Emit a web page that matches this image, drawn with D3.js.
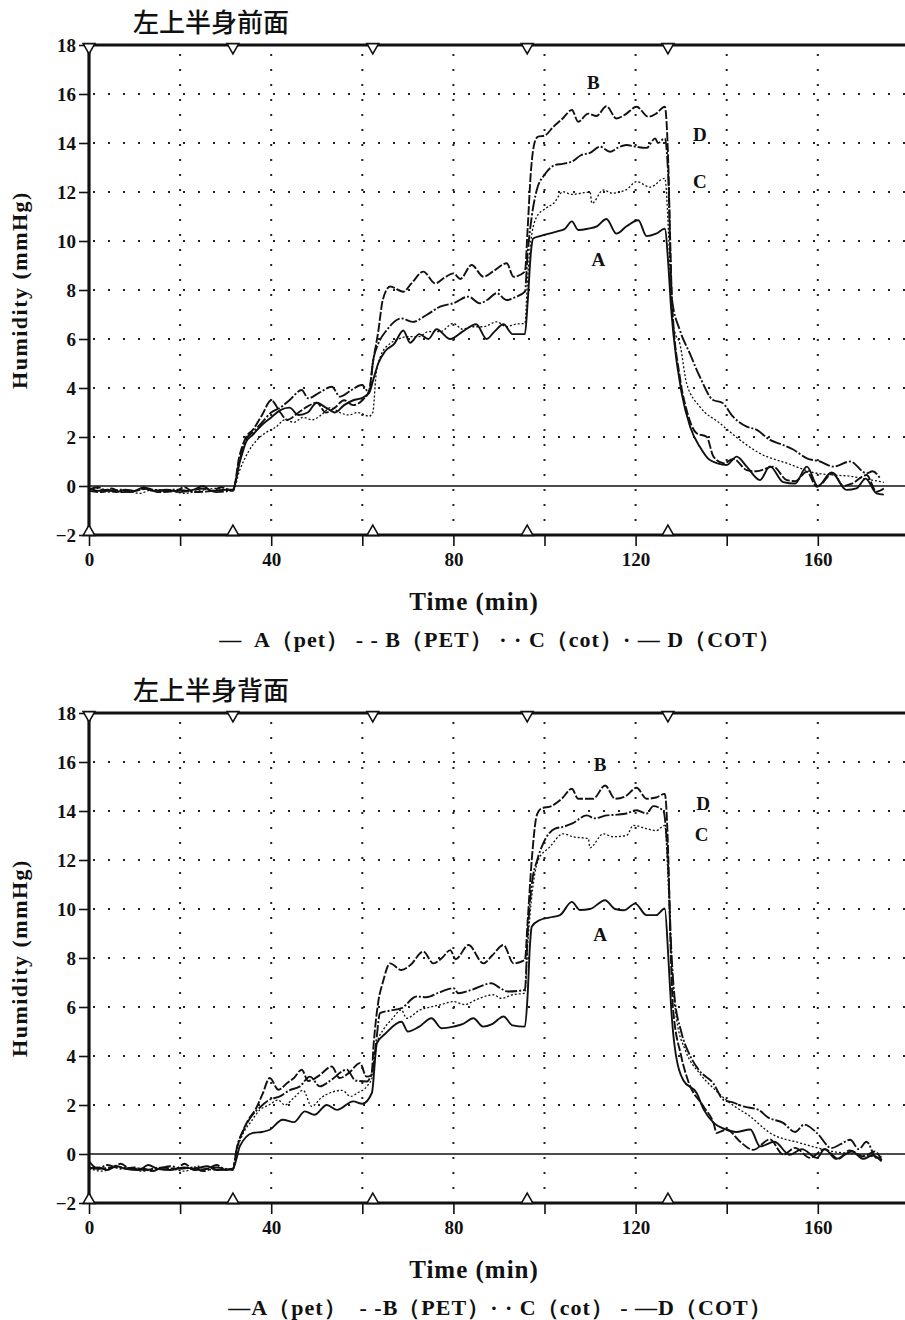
<!DOCTYPE html>
<html>
<head>
<meta charset="utf-8">
<script src="https://cdn.jsdelivr.net/npm/d3@7"></script>
<style>
  body { margin: 0; background: #fff; }
  svg text { fill: #111; }
</style>
</head>
<body>
<div id="chart"></div>
<script>
  // panel titles, axis text, legend text
  const panelTitles = ['左上半身前面', '左上半身背面'];
  const legendTexts = [
    '—  A（pet） - - B（PET） · · C（cot）· — D（COT）',
    '—A（pet）  - -B（PET）· · C（cot） - —D（COT）'
  ];
  const xTicks = [0, 40, 80, 120, 160];
  const yTicks = [-2, 0, 2, 4, 6, 8, 10, 12, 14, 16, 18];
  // marker times (min) shown as triangles on the frame
  const markerTimes = [0, 31.6, 62.3, 96.2, 127.1];
  const seriesNames = ['A', 'B', 'C', 'D'];

  // ---- front (前面): [minute, mmHg] ----
  const frontA = [[0,-0.1],[2,-0.2],[4,-0.15],[6,-0.25],[8,-0.15],[10,-0.2],[12,-0.05],[14,-0.2],[17,-0.15],[20,-0.25],[23,-0.15],[25,0.0],[27,-0.2],[30,-0.15],[31.6,-0.15],
    [33,0.9],[34.5,1.8],[36,2.1],[38,2.5],[40,2.8],[42,3.1],[44,3.2],[46,2.9],[48,3.0],[50,3.4],[52,3.2],[54,3.0],[56,3.3],[58,3.5],[60,3.6],[61.5,3.8],
    [62.5,4.4],[63.5,5.0],[65,5.5],[67,5.8],[69,6.35],[70.5,5.85],[72.5,6.2],[74.5,6.0],[76.3,6.4],[79.3,6.0],[82,6.3],[85,6.6],[87.3,6.0],[89,6.3],[91,6.6],[93,6.2],[95.7,6.2],
    [96.3,7.5],[97,9.5],[97.5,10.1],[99,10.2],[101,10.3],[103,10.4],[104.5,10.5],[106,10.8],[107.4,10.45],[109.5,10.5],[111.5,10.6],[113.6,10.9],[115.8,10.3],[118,10.6],[120.6,10.85],[122.4,10.2],[124.5,10.3],[126.4,10.5],
    [127.2,9.0],[127.7,7.5],[128.3,6.2],[130.1,3.8],[132,2.4],[134.1,1.6],[136.3,1.06],[140,0.86],[142.2,1.2],[144.4,0.79],[147.3,0.24],[149.5,0.8],[152.4,0.16],[155,0.1],[157.6,0.79],[160,0.0],[163,0.55],[166.3,-0.16],[168.5,-0.1],[170.5,0.3],[172.9,-0.3],[174.5,-0.35]];
  const frontB = [[0,-0.2],[3,-0.25],[5,-0.1],[7,-0.25],[10,-0.2],[13,-0.1],[15,-0.25],[19,-0.2],[21,-0.05],[23,-0.25],[27,-0.2],[29,-0.05],[31.6,-0.2],
    [33,1.2],[34.5,2.0],[36,2.3],[38,2.9],[40,3.5],[42,3.0],[43.5,2.7],[46,3.0],[48,3.25],[50,3.4],[52,3.0],[54,3.2],[56,3.5],[58,3.3],[60,3.5],[61.5,3.9],
    [62.3,5.0],[63.5,6.3],[64.5,7.6],[66.1,8.14],[69,7.93],[70.8,8.27],[73.4,8.75],[76,8.27],[78,8.5],[80,8.68],[81.5,8.45],[84,9.02],[86.6,8.54],[89,8.8],[91.7,9.09],[93.2,8.54],[95.7,8.75],
    [96.3,10.5],[97,12.8],[97.8,14.0],[98.6,14.26],[100,14.3],[102,14.67],[104,15.0],[106,15.35],[107.4,14.87],[109.6,15.2],[111.4,15.1],[113.6,15.5],[115.8,15.0],[118,15.2],[120.2,15.48],[122.8,15.07],[124.5,15.2],[126.4,15.48],
    [127.2,13.0],[127.6,10.0],[128,7.5],[129.7,4.46],[131.2,3.1],[133.4,2.15],[135.6,2.01],[137.1,1.2],[139.3,0.93],[141.5,1.1],[144.4,0.65],[146.5,0.6],[150.2,0.79],[153.2,0.24],[155,0.2],[157.6,0.58],[159.8,-0.03],[163.4,0.52],[165.6,0.0],[167.5,0.1],[170.7,0.45],[172.9,-0.23],[174.5,-0.1]];
  const frontC = [[0,-0.2],[2,-0.1],[4,-0.25],[8,-0.2],[11,-0.3],[14,-0.15],[18,-0.2],[21,-0.3],[24,-0.2],[28,-0.1],[31.6,-0.2],
    [33,0.6],[35,1.4],[37,1.9],[39,2.2],[41,2.4],[43,2.7],[45,2.6],[47,2.8],[49,2.7],[51,2.9],[53,3.2],[55,3.0],[57,2.9],[59,3.0],[61.5,2.85],
    [62.3,3.0],[63,4.5],[64,5.3],[66,5.8],[68,6.0],[70,6.1],[72.5,6.1],[74.5,6.3],[77.1,6.3],[80,6.64],[82,6.4],[84,6.5],[86.6,6.5],[89.5,6.7],[91.7,6.5],[93.5,6.6],[95.7,6.64],
    [96.3,8.5],[97,10.0],[98.3,10.99],[100,11.3],[102,11.54],[104.1,12.01],[106,11.9],[108,11.95],[110,12.0],[110.4,11.54],[112.9,12.08],[114.9,11.95],[118,12.1],[120.2,12.42],[123.2,12.2],[126.4,12.56],
    [127.3,10.0],[127.8,7.5],[128.6,6.3],[129.7,5.82],[131.2,4.19],[134.1,3.24],[138.5,2.56],[142.9,1.88],[147.3,1.33],[153.2,0.93],[159.8,0.52],[163,0.45],[167.1,0.4],[170,0.3],[173.7,0.18],[174.5,0.15]];
  const frontD = [[0,-0.15],[2,-0.05],[4,-0.2],[7,-0.15],[9,-0.25],[12,-0.1],[16,-0.2],[19,-0.15],[22,-0.2],[25,-0.1],[28,-0.25],[31.6,-0.15],
    [33,1.0],[34.5,1.9],[36.1,2.22],[38,2.6],[40,3.0],[42,3.2],[44,3.5],[46.7,3.92],[48.1,3.58],[50.5,3.8],[53.3,4.05],[55.1,3.65],[57.5,3.9],[59.9,4.12],[61.5,3.82],
    [62.4,5.14],[63.5,5.8],[65.4,6.37],[68.6,6.84],[71,6.7],[74.1,6.98],[77.1,7.32],[80,7.46],[83.3,7.73],[85.8,7.46],[87.5,7.6],[89.5,7.87],[91.7,7.59],[93.5,7.7],[95.7,7.93],
    [96.3,9.5],[97.2,11.0],[98.3,12.08],[100,12.7],[102.3,13.1],[104,13.15],[106,13.24],[108,13.5],[110,13.6],[112.2,13.85],[114.4,13.64],[116,13.8],[118,13.92],[120,13.85],[122.4,13.8],[124.3,14.19],[124.9,14.0],[126.4,14.19],
    [127.2,12.5],[127.6,9.5],[128,7.6],[129.7,6.37],[131.9,5.41],[134.1,4.46],[137,3.51],[139,3.4],[141.4,2.83],[144.4,2.42],[146.5,2.3],[149.5,1.88],[152,1.7],[154.5,1.5],[157.6,1.13],[160.5,1.0],[163.4,0.79],[167.1,1.0],[170.7,0.52],[172,0.6],[173.7,0.31]];

  // ---- back (背面) ----
  const backA = [[0,-0.6],[2,-0.55],[4,-0.65],[6,-0.5],[8,-0.6],[11,-0.65],[13,-0.45],[15,-0.6],[18,-0.65],[21,-0.55],[23,-0.6],[26,-0.5],[28,-0.65],[31.6,-0.6],
    [32.5,-0.1],[33.1,0.31],[36,0.86],[38,0.9],[39.7,0.99],[42.5,1.4],[45,1.3],[47.4,1.74],[49.5,1.6],[52.2,2.0],[54.5,1.8],[58,2.15],[60,2.05],[62.1,2.49],
    [63.2,4.52],[65,4.9],[68.6,5.4],[70,5.0],[72.5,5.2],[75.2,5.54],[77.4,5.13],[80,5.2],[82,5.3],[84.4,5.54],[86.5,5.2],[88.5,5.3],[91,5.61],[93,5.25],[95.7,5.2],
    [96.3,6.5],[96.8,8.5],[97.2,9.28],[99,9.55],[101,9.65],[103.4,9.75],[106,10.29],[107.8,9.96],[110,10.0],[113.3,10.36],[115.5,10.0],[117.5,9.95],[119.9,10.22],[122.4,9.75],[124.5,9.75],[126.4,10.02],
    [127.2,8.0],[127.8,6.0],[128.5,4.5],[130.5,3.0],[133.4,2.49],[135,1.8],[137,1.3],[140,0.99],[142,0.9],[145.2,1.0],[147.3,0.31],[150.5,0.5],[153.8,-0.03],[156.5,0.2],[159.8,-0.16],[161.5,0.2],[164,-0.2],[167.5,0.1],[170,-0.2],[172,-0.05],[174,-0.3]];
  const backB = [[0,-0.3],[2,-0.6],[5,-0.55],[7,-0.4],[9,-0.6],[12,-0.6],[14,-0.7],[16,-0.55],[19,-0.6],[21,-0.4],[23,-0.65],[26,-0.6],[28,-0.45],[30,-0.65],[31.6,-0.6],
    [32.4,0.17],[33.9,0.99],[35,1.4],[36.5,1.8],[38,2.4],[39.7,3.1],[41.6,2.62],[43.5,2.9],[45,3.1],[46.7,3.44],[48.1,2.98],[50.5,3.2],[53.3,3.57],[55,3.1],[57,3.3],[59.5,3.71],[60.9,3.16],[62,3.2],
    [62.5,4.5],[63.5,6.2],[64.5,7.0],[66.1,7.78],[68.6,7.51],[70.5,7.7],[73.4,8.26],[75.6,7.78],[77.5,8.0],[79.3,8.32],[80.5,7.95],[83.3,8.53],[86.6,7.78],[88.5,8.1],[91,8.53],[93.2,7.78],[95.7,7.92],
    [96.3,9.5],[97.2,12.0],[98.3,13.82],[99.3,14.1],[101.5,14.2],[103.8,14.5],[106,14.91],[107.4,14.5],[110.7,14.5],[113.3,15.04],[115.5,14.5],[117.8,14.6],[120.2,14.95],[122.4,14.5],[124.5,14.55],[126.4,14.7],
    [127.2,12.0],[127.6,9.0],[128.2,6.0],[130,4.0],[131.5,3.0],[134.9,1.94],[137.1,1.27],[137.8,0.86],[140,1.0],[142.9,0.51],[145.8,0.17],[149.5,0.6],[152.4,-0.03],[155,0.25],[158.3,-0.16],[161.5,0.2],[164.5,-0.2],[167,0.15],[170,-0.1],[172.5,0.1],[174,-0.25]];
  const backC = [[0,-0.6],[3,-0.7],[6,-0.5],[9,-0.6],[12,-0.7],[15,-0.55],[18,-0.6],[21,-0.7],[24,-0.5],[27,-0.65],[31.6,-0.6],
    [32.4,0.1],[34,0.9],[35.5,1.3],[37.5,1.8],[39.5,2.0],[41.5,2.2],[43,2.0],[45,2.3],[47,2.6],[48.9,1.94],[51,2.3],[53,2.5],[55.5,2.6],[57.5,2.35],[59,2.5],[61,2.76],
    [62.3,3.2],[63.2,4.5],[64.6,5.07],[66.5,5.5],[68.6,5.88],[69.7,5.54],[72.7,5.88],[75,6.0],[77.1,6.09],[80,6.22],[82.5,6.1],[85,6.3],[88.8,6.5],[90.5,6.35],[93,6.5],[95.7,6.57],
    [96.3,8.5],[97.2,10.5],[98.6,11.99],[101.2,12.54],[104.1,13.07],[106.4,12.94],[109.6,12.88],[110,12.5],[112.9,13.07],[115,12.95],[118,13.0],[119.5,13.41],[122.4,13.28],[124.5,13.2],[126.4,13.41],
    [127.3,10.5],[128,7.5],[129,5.5],[131,4.2],[134,3.3],[137,2.7],[140.7,2.08],[145.1,1.54],[149.5,0.86],[156.1,0.45],[160,0.25],[163.4,0.1],[168,0.0],[172.9,-0.12],[174,-0.15]];
  const backD = [[0,-0.55],[2,-0.6],[4,-0.45],[7,-0.6],[10,-0.55],[12,-0.65],[15,-0.6],[18,-0.5],[20,-0.6],[23,-0.55],[25,-0.7],[28,-0.55],[31.6,-0.65],
    [32.4,0.2],[34,1.0],[35.5,1.5],[37.5,1.9],[39.5,2.2],[41.9,2.35],[44,2.6],[46.3,2.76],[48.5,3.16],[50.7,2.76],[53,3.0],[56.6,3.44],[58.5,3.0],[61,2.96],
    [62.3,3.5],[63,4.5],[63.9,5.75],[66,5.85],[68.6,5.95],[71.9,6.43],[74,6.4],[77,6.6],[80,6.77],[81.1,6.56],[84,6.7],[88.4,6.97],[90,6.8],[92,6.63],[95.7,6.7],
    [96.3,9.0],[97.2,11.0],[98.4,12.0],[99.7,12.67],[102.3,13.28],[104,13.35],[106,13.48],[109.3,13.82],[111,13.7],[113.6,13.82],[116,13.85],[118,13.9],[120.2,14.03],[122.4,13.9],[123.9,14.2],[126.1,14.0],
    [127.2,11.5],[127.8,8.5],[128.5,6.5],[130,5.0],[132,4.0],[134,3.4],[137,2.9],[139.3,2.21],[141.5,2.1],[143.7,1.94],[147,1.8],[149,1.5],[152.4,1.27],[155,0.9],[157,1.2],[159.8,0.86],[163,0.24],[165,0.4],[167.1,0.58],[169,0.2],[170.7,0.5],[172.9,-0.16],[174,-0.1]];

  // curve labels placed next to the high step [letter, minute, mmHg]
  const frontLabels = [['B',110.7,16.4],['D',134.1,14.26],['C',134.1,12.36],['A',111.8,9.15]];
  const backLabels = [['B',112.2,15.8],['D',134.8,14.23],['C',134.5,12.94],['A',112.2,8.87]];

  const W = 905, H = 1320;
  const svg = d3.select('#chart').append('svg')
    .attr('width', W).attr('height', H)
    .attr('viewBox', [0, 0, W, H]);

  const serif = '"Liberation Serif", "DejaVu Serif", serif';
  const dashes = { A: null, B: '9,2', C: '2,2', D: '12,2,2,2' };
  const widths = { A: 1.9, B: 1.9, C: 1.3, D: 1.9 };

  const drawPanel = (top, idx, series, labels) => {
    const left = 89, plotH = 490;
    const x = d3.scaleLinear().domain([0, 180]).range([left, left + 180 * 4.555]);
    const y = d3.scaleLinear().domain([-2, 18]).range([top + plotH, top]);
    const g = svg.append('g');

    // clip so lines stop at the frame
    const clipId = 'clip' + idx;
    g.append('clipPath').attr('id', clipId)
      .append('rect').attr('x', left).attr('y', top).attr('width', W - left).attr('height', plotH);

    // dotted grid
    g.append('g').selectAll('line')
      .data(d3.range(2, 18, 2))
      .join('line')
        .attr('x1', left + 4).attr('x2', W)
        .attr('y1', d => y(d)).attr('y2', d => y(d))
        .attr('stroke', '#222').attr('stroke-width', 2)
        .attr('stroke-dasharray', '2,13');
    g.append('g').selectAll('line')
      .data(d3.range(20, 181, 20))
      .join('line')
        .attr('x1', d => x(d)).attr('x2', d => x(d))
        .attr('y1', top + 9).attr('y2', top + plotH)
        .attr('stroke', '#222').attr('stroke-width', 2)
        .attr('stroke-dasharray', '2,13');

    // zero line
    g.append('line')
      .attr('x1', left).attr('x2', W)
      .attr('y1', y(0)).attr('y2', y(0))
      .attr('stroke', '#111').attr('stroke-width', 1.3);

    // y axis ticks + labels
    const yAxis = d3.axisLeft(y).tickValues(yTicks).tickSize(10).tickPadding(3)
      .tickFormat(d => d < 0 ? '−' + Math.abs(d) : d);
    const yG = g.append('g').attr('transform', `translate(${left},0)`).call(yAxis);
    yG.select('.domain').remove();
    yG.selectAll('line').attr('stroke', '#111').attr('stroke-width', 1.6);
    yG.selectAll('text')
      .attr('font-family', serif).attr('font-weight', 'bold').attr('font-size', 19).attr('fill', '#111');

    // x axis ticks + labels
    const xAxis = d3.axisBottom(x).tickValues(d3.range(0, 181, 20)).tickSize(11).tickPadding(7)
      .tickFormat(d => xTicks.includes(d) ? d : '');
    const xG = g.append('g').attr('transform', `translate(0,${top + plotH})`).call(xAxis);
    xG.select('.domain').remove();
    xG.selectAll('line').attr('stroke', '#111').attr('stroke-width', 1.6);
    xG.selectAll('text')
      .attr('font-family', serif).attr('font-weight', 'bold').attr('font-size', 19).attr('fill', '#111');

    // series lines
    const line = d3.line().x(d => x(d[0])).y(d => y(d[1])).curve(d3.curveMonotoneX);
    g.append('g').attr('clip-path', `url(#${clipId})`)
      .selectAll('path')
      .data(series)
      .join('path')
        .attr('d', d => line(d.values))
        .attr('fill', 'none')
        .attr('stroke', '#111')
        .attr('stroke-width', d => widths[d.name])
        .attr('stroke-dasharray', d => dashes[d.name])
        .attr('stroke-linejoin', 'round');

    // thick frame: top, bottom, left
    g.append('line').attr('x1', left).attr('x2', W).attr('y1', top).attr('y2', top)
      .attr('stroke', '#111').attr('stroke-width', 3.2);
    g.append('line').attr('x1', left).attr('x2', W).attr('y1', top + plotH).attr('y2', top + plotH)
      .attr('stroke', '#111').attr('stroke-width', 3.2);
    g.append('line').attr('x1', left).attr('x2', left).attr('y1', top).attr('y2', top + plotH)
      .attr('stroke', '#111').attr('stroke-width', 3.2);

    // event triangles on the frame
    const tri = d3.symbol().type(d3.symbolTriangle).size(60);
    g.append('g').selectAll('path')
      .data(markerTimes)
      .join('path')
        .attr('d', tri)
        .attr('transform', d => `translate(${x(d)},${top + 2}) rotate(180)`)
        .attr('fill', '#fff').attr('stroke', '#111').attr('stroke-width', 1.6);
    g.append('g').selectAll('path')
      .data(markerTimes)
      .join('path')
        .attr('d', tri)
        .attr('transform', d => `translate(${x(d)},${top + plotH - 3})`)
        .attr('fill', '#fff').attr('stroke', '#111').attr('stroke-width', 1.6);

    // curve letters
    g.append('g').selectAll('text')
      .data(labels)
      .join('text')
        .attr('x', d => x(d[1])).attr('y', d => y(d[2]))
        .attr('text-anchor', 'middle')
        .attr('dominant-baseline', 'middle')
        .attr('font-family', serif).attr('font-weight', 'bold').attr('font-size', 19)
        .text(d => d[0]);

    // panel title
    g.append('text')
      .attr('x', 133).attr('y', top - 13)
      .attr('font-family', '"Noto Sans CJK SC", sans-serif').attr('font-weight', 500)
      .attr('font-size', 26)
      .text(panelTitles[idx]);

    // y title
    g.append('text')
      .attr('transform', `translate(27,${top + 245}) rotate(-90)`)
      .attr('text-anchor', 'middle')
      .attr('font-family', serif).attr('font-weight', 'bold').attr('font-size', 22)
      .attr('letter-spacing', 1.5)
      .text('Humidity (mmHg)');

    // x title
    g.append('text')
      .attr('x', 474).attr('y', top + plotH + 75)
      .attr('text-anchor', 'middle')
      .attr('font-family', serif).attr('font-weight', 'bold').attr('font-size', 25)
      .attr('letter-spacing', 1)
      .text('Time (min)');

    // legend line
    g.append('text')
      .attr('x', 500).attr('y', top + plotH + 112)
      .attr('text-anchor', 'middle')
      .attr('font-family', serif).attr('font-weight', 'bold').attr('font-size', 22)
      .attr('letter-spacing', 1)
      .style('white-space', 'pre')
      .text(legendTexts[idx]);
  };

  const frontSeries = [frontA, frontB, frontC, frontD].map((v, i) => ({ name: seriesNames[i], values: v }));
  const backSeries = [backA, backB, backC, backD].map((v, i) => ({ name: seriesNames[i], values: v }));

  drawPanel(45, 0, frontSeries, frontLabels);
  drawPanel(713, 1, backSeries, backLabels);
</script>
</body>
</html>
